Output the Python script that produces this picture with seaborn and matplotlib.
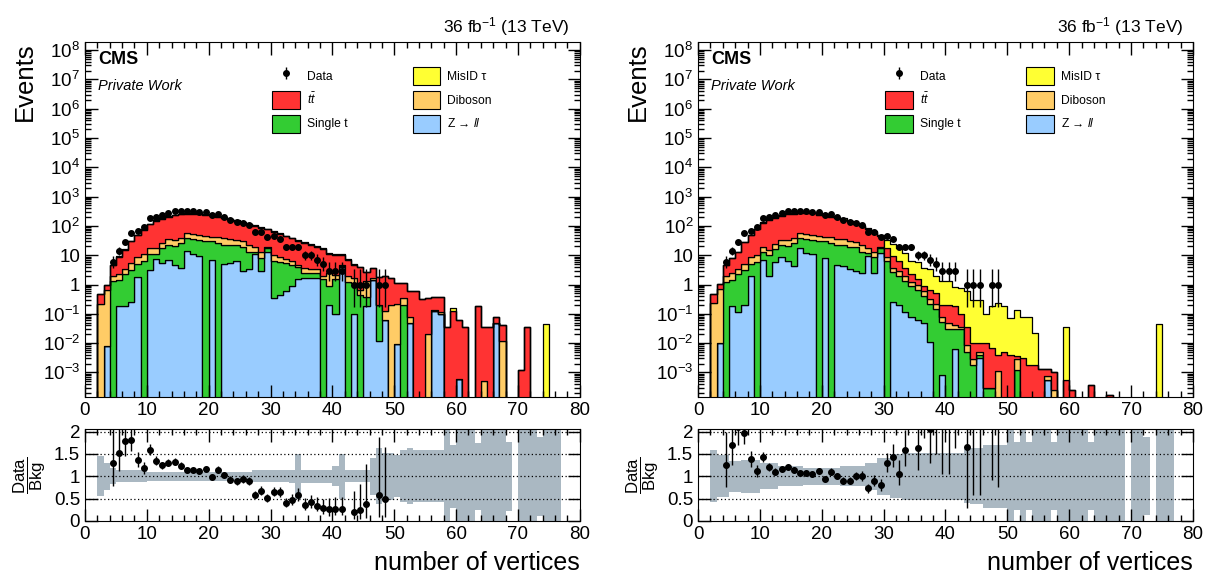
import math
import numpy as np
import pandas as pd
import matplotlib
matplotlib.use("Agg")
import matplotlib.pyplot as plt
from matplotlib.patches import Patch
from matplotlib.ticker import MultipleLocator, LogLocator, NullFormatter
import seaborn as sns

plt.rcParams['font.family'] = ['Liberation Sans', 'DejaVu Sans']
plt.rcParams['mathtext.fontset'] = 'custom'
plt.rcParams['mathtext.rm'] = 'Liberation Sans'
plt.rcParams['mathtext.it'] = 'Liberation Sans:italic'
plt.rcParams['mathtext.bf'] = 'Liberation Sans:bold'

# ---------------- data ----------------
bin_edges = list(range(0, 81))
processes = ["MisID τ", "$t\\bar{t}$", "Diboson", "Single t", "Z → $ll$"]
colors = ["#ffff33", "#ff3333", "#ffcc66", "#33cc33", "#99ccff"]

data_counts = [0, 0, 0, 0, 6, 14, 28, 57, 69, 89,
               189, 207, 231, 282, 321, 324, 314, 314, 297, 295,
               236, 250, 202, 162, 137, 127, 105, 62, 62, 41,
               44, 36, 19, 19, 19, 10, 10, 7, 5, 3,
               3, 3, 0, 1, 1, 1, 0, 1, 1, 0,
               0, 0, 0, 0, 0, 0, 0, 0, 0, 0,
               0, 0, 0, 0, 0, 0, 0, 0, 0, 0,
               0, 0, 0, 0, 0, 0, 0, 0, 0, 0]

# left panel
zll_left = [0, 0, 0, 0.008, 0, 0.18, 0.18, 0.25, 1.8, 0,
            3.2, 7.5, 5.5, 7, 4.5, 3.7, 14, 11, 9.5, 0,
            7, 0, 5, 5.5, 6.5, 3, 3.5, 11, 3, 13,
            0.35, 0.45, 0.6, 0.9, 1.5, 1.7, 1.7, 1.7, 0, 0.2,
            0.1, 4, 0, 0.1, 0, 0.18, 1.4, 0.012, 0.06, 0,
            0.009, 0, 0.05, 0, 0, 0, 0.13, 0.1, 0, 0,
            0.0006, 0, 0, 0, 0, 0, 0.05, 0, 0, 0,
            0, 0, 0, 0, 0, 0, 0, 0, 0, 0]
singlet_left = [0, 0, 0, 0, 1.3, 1.3, 2.1, 3.0, 3.1, 6.6,
                7.4, 3.1, 12.5, 16, 15.5, 23, 26, 24, 22.5, 30,
                23, 27, 18, 17.5, 15.5, 16, 9.5, 2, 5.1, 4,
                6, 5.3, 5, 3.6, 2.5, 0.8, 0.8, 0.8, 1.5, 0.7,
                1.5, 0.3, 1.2, 1.0, 0.45, 0.2, 0, 0.19, 0, 0,
                0, 0.2, 0, 0, 0, 0, 0, 0, 0, 0,
                0, 0, 0, 0, 0, 0, 0, 0, 0, 0,
                0, 0, 0, 0, 0, 0, 0, 0, 0, 0]
diboson_left = [0, 0, 0.22, 0.65, 0.6, 0.9, 1.2, 2.0, 3.5, 4.5,
                6.5, 7, 8, 12, 12, 12, 16, 18, 18, 14,
                12, 16, 15, 14, 12, 11, 10, 6, 5, 2,
                3.5, 3, 2, 1.8, 0.6, 1.2, 1.0, 0.8, 0.4, 1.6,
                0.6, 0.2, 0.8, 0.6, 0.2, 0.9, 0.3, 0, 0.07, 0.2,
                0.2, 0.15, 0.03, 0, 0, 0.02, 0.005, 0.015, 0, 0,
                0, 0, 0, 0, 0.0005, 0, 0, 0.012, 0, 0,
                0, 0, 0, 0, 0, 0, 0, 0, 0, 0]
ttbar_left = [0, 0, 0.26, 0.34, 2.6, 6.5, 11.5, 24.7, 39.6, 61,
              96, 129, 151, 172, 198, 210, 206, 209, 205, 198,
              188, 164, 149, 131, 113, 99, 90, 81, 74, 57,
              54, 45, 37, 32, 27, 23, 19.5, 16, 14.6, 8.5,
              8.3, 6, 5, 3.1, 3.3, 1.3, 2.0, 1.55, 1.87, 1.5,
              0.9, 0.75, 0.52, 0.6, 0.33, 0.33, 0.245, 0.265, 0.036, 0.13,
              0.062, 0.035, 0, 0.18, 0.0345, 0.035, 0.03, 0.028, 0, 0,
              0.0012, 0.035, 0, 0, 0, 0, 0, 0, 0, 0]
misid_left = [0, 0, 0, 0, 0.1, 0.3, 0.75, 1.5, 2.4, 3.6,
              5.6, 7.3, 8.9, 10.3, 11.5, 12.5, 13, 13, 12.8, 12,
              11.5, 10.3, 9.4, 8.4, 7.4, 6.5, 5.6, 5, 4.4, 3.8,
              3.2, 2.7, 2.2, 1.9, 1.6, 1.35, 1.15, 1.0, 0.8, 0.5,
              0.5, 0.5, 0.3, 0.1, 0, 0, 0, 0, 0, 0,
              0, 0, 0, 0, 0, 0, 0, 0, 0, 0.03,
              0, 0, 0, 0, 0, 0, 0, 0, 0, 0,
              0, 0, 0, 0, 0.045, 0, 0, 0, 0, 0]
nan = float("nan")
unc_left = [nan, nan, 0.45, 0.3, 0.18, 0.13, 0.13, 0.13, 0.13, 0.13,
            0.1, 0.1, 0.1, 0.1, 0.1, 0.1, 0.1, 0.1, 0.1, 0.1,
            0.1, 0.1, 0.1, 0.1, 0.1, 0.1, 0.1, 0.13, 0.13, 0.13,
            0.13, 0.13, 0.13, 0.14, 0.5, 0.14, 0.14, 0.14, 0.14, 0.14,
            0.22, 0.5, 0.13, 0.13, 0.13, 0.13, 0.42, 0.63, 0.52, 0.52,
            0.47, 0.58, 0.63, 0.58, 0.58, 0.58, 0.58, 0.58, 1.2, 0.7,
            1.2, 1.2, 1.2, 0.75, 1.2, 1.2, 1.2, 1.2, 0.77, nan,
            1.2, 1.2, 1.2, 0.88, 1.2, 1.2, 1.2, nan, nan, nan]

# right panel
zll_right = [0, 0, 0, 0.01, 0, 0.18, 0.12, 0.2, 1.9, 0,
             6.8, 1.9, 5.8, 8.9, 6.3, 4.3, 18, 12, 11, 0,
             8, 0, 4.8, 4.3, 3.3, 2.9, 2.5, 9.3, 2.5, 12,
             0, 0.25, 0.2, 0.12, 0.08, 0.06, 0.05, 0.011, 0, 0.0008,
             0, 0.0063, 0, 0, 0, 0.003, 0, 0, 0, 0,
             0, 0, 0, 0, 0, 0, 0.00057, 0, 0, 0,
             0, 0, 0, 0, 0, 0, 0, 0, 0, 0,
             0, 0, 0, 0, 0, 0, 0, 0, 0, 0]
singlet_right = [0, 0, 0, 0, 1.2, 1.3, 2.1, 3.0, 3.0, 6.0,
                 6.5, 8, 11, 14, 15, 21, 22, 24, 22, 30,
                 22, 27, 18, 17.5, 15.5, 15.5, 10, 3, 6, 5,
                 6.3, 2.5, 1.8, 1.2, 0.8, 0.6, 0.35, 0.2, 0.15, 0.05,
                 0.03, 0.024, 0.03, 0.005, 0.0018, 0.001, 0.0003, 0.0003, 0, 0,
                 0, 0.0012, 0, 0, 0, 0, 0, 0, 0, 0,
                 0, 0, 0, 0, 0, 0, 0, 0, 0, 0,
                 0, 0, 0, 0, 0, 0, 0, 0, 0, 0]
diboson_right = [0, 0, 0.23, 0.7, 0.7, 1.0, 1.3, 2.0, 3.5, 4.5,
                 6.5, 5, 8, 11, 11, 12, 16, 17, 17, 14,
                 12, 15, 14, 13, 11, 10, 9, 6, 4.5, 2,
                 2.5, 1.0, 0.8, 0.6, 0.35, 0.3, 0.2, 0.1, 0.06, 0.03,
                 0.02, 0.01, 0.005, 0.0035, 0.001, 0.001, 0, 0, 0.0011, 0,
                 0, 0.0016, 0, 0, 0, 0, 0.0002, 0.00025, 0, 0,
                 0, 0, 0, 0, 0, 0, 0, 0, 0, 0,
                 0, 0, 0, 0, 0, 0, 0, 0, 0, 0]
ttbar_right = [0, 0, 0.26, 0.34, 2.6, 5.5, 9.3, 23, 39.6, 66,
               103, 139, 163, 186, 214, 227, 222, 226, 221, 198,
               188, 164, 149, 131, 113, 92, 80, 60, 48, 25,
               9.2, 5.5, 3.5, 1.8, 1.0, 0.54, 0.3, 0.36, 0.29, 0.12,
               0.15, 0.15, 0.065, 0.027, 0.0072, 0.005, 0.0097, 0.0067, 0.0029, 0.005,
               0.004, 0.0007, 0.003, 0.0018, 0.0018, 0.0013, 0.0005, 0.00075, 0, 0.00057,
               0.00025, 0, 0, 0.00037, 0, 0, 0.00017, 0, 0, 0,
               0, 0, 0, 0, 0, 0, 0, 0, 0, 0]
misid_right = [0, 0, 0, 0, 0.3, 0.2, 0.5, 0.6, 2, 3.5,
               9, 18, 22, 23, 21, 18, 15, 14, 12, 24,
               21, 21, 16, 14, 9, 7, 3.5, 6.7, 8, 7,
               16, 15.75, 11.7, 8.3, 4.1, 4.6, 2.8, 2.73, 1.4, 1.1,
               1.1, 0.65, 0.68, 0.565, 0.29, 0.29, 0.09, 0.183, 0.226, 0.175,
               0.068, 0.1365, 0.074, 0.075, 0.021, 0, 0, 0, 0, 0.035,
               0, 0, 0, 0, 0, 0, 0, 0, 0, 0,
               0, 0, 0, 0, 0.045, 0, 0, 0, 0, 0]
unc_right = [nan, nan, 0.58, 0.47, 0.47, 0.35, 0.35, 0.37, 0.37, 0.37,
             0.29, 0.29, 0.29, 0.22, 0.22, 0.22, 0.22, 0.19, 0.19, 0.19,
             0.19, 0.19, 0.19, 0.22, 0.22, 0.22, 0.22, 0.3, 0.3, 0.41,
             0.41, 0.49, 0.49, 0.52, 0.52, 0.52, 0.53, 0.53, 0.53, 0.53,
             0.53, 0.53, 0.53, 0.6, 0.63, 0.63, 0.7, 0.7, 0.7, 0.7,
             1.2, 0.76, 1.2, 0.76, 1.2, 1.2, 1.2, 0.76, 1.2, 1.2,
             1.2, 1.2, 1.2, 0.76, 1.2, 1.2, 1.2, 1.2, 1.2, nan,
             1.2, 1.2, 0.87, nan, 1.2, 1.2, 1.2, nan, nan, nan]

x_ticks = [0, 10, 20, 30, 40, 50, 60, 70, 80]
y_exponents = list(range(-3, 9))
ratio_ticks = [0, 0.5, 1, 1.5, 2]
ratio_tick_labels = ["0", "0.5", "1", "1.5", "2"]


# ---------------- helpers ----------------
def pois_cdf(n, mu):
    if n < 0:
        return 0.0
    k = np.arange(n + 1)
    lg = np.array([math.lgamma(i + 1) for i in k])
    return float(np.exp(-mu + k * np.log(mu) - lg).sum())


def garwood(n, a=0.158655):
    if n == 0:
        lo = 0.0
    else:
        l, h = 0.0, float(n)
        for _ in range(80):
            m = 0.5 * (l + h)
            if 1 - pois_cdf(n - 1, m) < a:
                l = m
            else:
                h = m
        lo = 0.5 * (l + h)
    l, h = float(n) + 1e-9, n + 10 * math.sqrt(n + 1) + 10
    for _ in range(80):
        m = 0.5 * (l + h)
        if pois_cdf(n, m) > a:
            l = m
        else:
            h = m
    hi = 0.5 * (l + h)
    return lo, hi


centers = np.arange(80) + 0.5
data_arr = np.array(data_counts, dtype=float)
intervals = [garwood(int(n)) for n in data_counts]
lo_arr = np.array([a for a, b in intervals])
hi_arr = np.array([b for a, b in intervals])

fig = plt.figure(figsize=(12.1, 5.75), dpi=100)

panels = [
    dict(left=0.0702, comps=[misid_left, ttbar_left, diboson_left, singlet_left, zll_left], unc=unc_left),
    dict(left=0.5769, comps=[misid_right, ttbar_right, diboson_right, singlet_right, zll_right], unc=unc_right),
]

ylabels = ["1" if e == 0 else ("10" if e == 1 else "$10^{%d}$" % e) for e in y_exponents]

for p in panels:
    ax = fig.add_axes([p["left"], 0.310, 0.409, 0.617])
    rax = fig.add_axes([p["left"], 0.094, 0.409, 0.160])

    frames = []
    for name, vals in zip(processes, p["comps"]):
        frames.append(pd.DataFrame({"x": centers, "w": vals, "proc": name}))
    df = pd.concat(frames, ignore_index=True)
    ax.set_yscale("log")
    sns.histplot(data=df, x="x", weights="w", hue="proc", hue_order=processes,
                 palette=dict(zip(processes, colors)), multiple="stack",
                 bins=bin_edges, element="step", alpha=1, linewidth=0.9,
                 edgecolor="black", legend=False, ax=ax)

    m = data_arr > 0
    eb = ax.errorbar(centers[m], data_arr[m],
                     yerr=[data_arr[m] - lo_arr[m], hi_arr[m] - data_arr[m]],
                     fmt="o", ms=4, color="black", elinewidth=1.0, capsize=0,
                     zorder=5, label="Data")

    ax.set_xlim(0, 80)
    ax.set_ylim(1.48e-4, 1.9e8)
    ax.set_yticks([10.0 ** e for e in y_exponents])
    ax.set_yticklabels(ylabels)
    ax.yaxis.set_minor_locator(LogLocator(base=10, subs=np.arange(2, 10), numticks=200))
    ax.yaxis.set_minor_formatter(NullFormatter())
    ax.set_xticks(x_ticks)
    ax.xaxis.set_minor_locator(MultipleLocator(2))
    ax.tick_params(which="both", direction="in", top=True, right=True, labelsize=13.5, width=1.0)
    ax.tick_params(which="major", length=9)
    ax.tick_params(which="minor", length=4.5)
    ax.set_xlabel("")
    ax.set_ylabel("Events", fontsize=18.5, loc="top", labelpad=4)

    ax.text(0.027, 0.95, "CMS", transform=ax.transAxes, fontsize=13, fontweight="bold", va="center")
    ax.text(0.027, 0.875, "Private Work", transform=ax.transAxes, fontsize=10.5, style="italic", va="center")
    ax.text(0.98, 1.012, "36 fb$^{-1}$ (13 TeV)", transform=ax.transAxes, fontsize=12.5, ha="right", va="bottom")

    handles = [eb]
    labels = ["Data"]
    order = [1, 3, 0, 2, 4]
    for i in order:
        handles.append(Patch(facecolor=colors[i], edgecolor="black", linewidth=0.8))
        labels.append(processes[i])
    ax.legend(handles, labels, ncol=2, loc="upper left", bbox_to_anchor=(0.378, 0.93),
              frameon=False, fontsize=8.7, handlelength=2.3, handleheight=1.9,
              labelspacing=0.5, columnspacing=5.4, handletextpad=0.58,
              borderpad=0, borderaxespad=0)

    # ratio panel
    comps = np.array(p["comps"], dtype=float)
    total = comps.sum(axis=0)
    unc = np.array(p["unc"], dtype=float)
    um = ~np.isnan(unc)
    rax.bar(centers[um], 2 * unc[um], bottom=1 - unc[um], width=1.0,
            color="#aab8c2", linewidth=0, zorder=1)
    for v in [0.5, 1, 1.5, 2]:
        rax.axhline(v, color="black", lw=0.9, ls=(0, (1, 2)), zorder=2)
    rm = (data_arr > 0) & (total > 0)
    ratio = data_arr[rm] / total[rm]
    rax.errorbar(centers[rm], ratio,
                 yerr=[(data_arr[rm] - lo_arr[rm]) / total[rm], (hi_arr[rm] - data_arr[rm]) / total[rm]],
                 fmt="o", ms=4, color="black", elinewidth=1.0, capsize=0, zorder=5)
    rax.set_xlim(0, 80)
    rax.set_ylim(0, 2.06)
    rax.set_yticks(ratio_ticks)
    rax.set_yticklabels(ratio_tick_labels)
    rax.set_xticks(x_ticks)
    rax.xaxis.set_minor_locator(MultipleLocator(2))
    rax.tick_params(which="both", direction="in", top=True, right=True, labelsize=13.5, width=1.0)
    rax.tick_params(which="major", length=9)
    rax.tick_params(which="minor", length=4.5)
    rax.set_xlabel("number of vertices", fontsize=18, loc="right", labelpad=6)
    rax.set_ylabel("$\\dfrac{\\mathrm{Data}}{\\mathrm{Bkg}}$", fontsize=12, labelpad=4)

fig.savefig("out.png", dpi=100)
